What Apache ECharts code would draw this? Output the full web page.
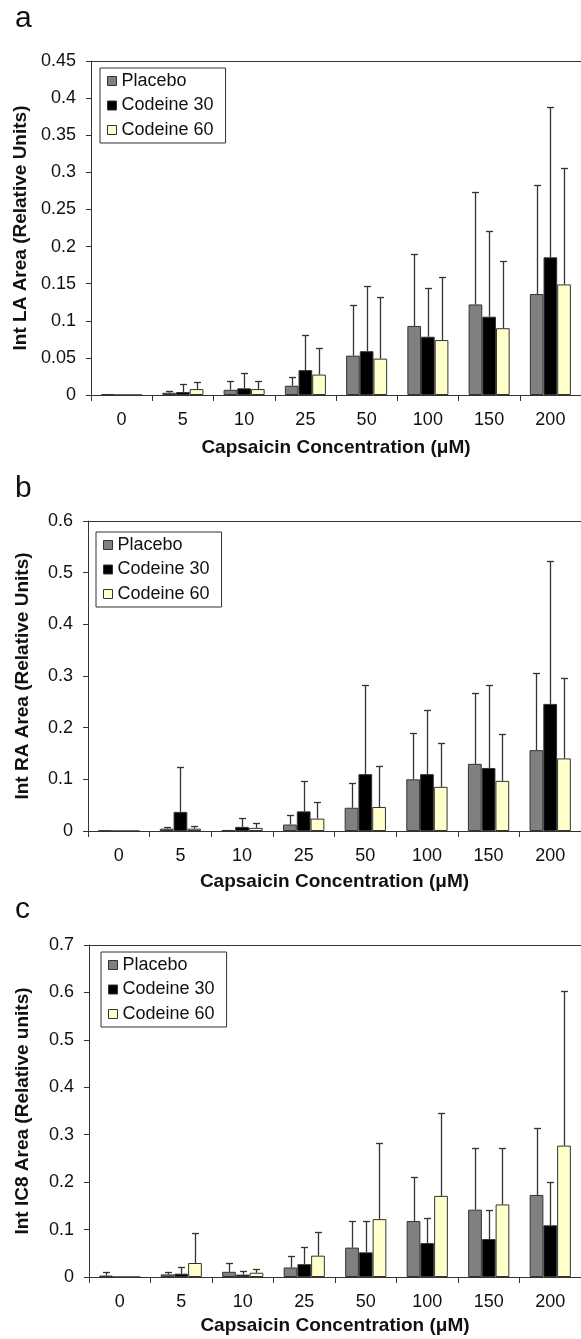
<!DOCTYPE html>
<html>
<head>
<meta charset="utf-8">
<script src="https://cdn.jsdelivr.net/npm/echarts@6/dist/echarts.min.js"></script>
<style>
  html, body { margin: 0; padding: 0; background: #fff; overflow: hidden; }
  #chart { width: 581px; height: 1339px; }
</style>
</head>
<body>
<div id="chart"></div>
<script>
const categories = ['0', '5', '10', '25', '50', '100', '150', '200'];
const seriesNames = ['Placebo', 'Codeine 30', 'Codeine 60'];
const colors = ['#808080', '#000000', '#FFFFCC'];

// panel a: Int LA Area, bar means and top of error bar
const laPlacebo = [0.001, 0.003, 0.007, 0.0125, 0.053, 0.093, 0.122, 0.136];
const laPlaceboHi = [0.001, 0.006, 0.019, 0.0245, 0.121, 0.19, 0.273, 0.283];
const laCod30 = [0, 0.004, 0.009, 0.0335, 0.059, 0.0785, 0.1055, 0.1855];
const laCod30Hi = [0, 0.015, 0.0295, 0.081, 0.1475, 0.1445, 0.2205, 0.388];
const laCod60 = [0, 0.008, 0.008, 0.0275, 0.049, 0.074, 0.09, 0.149];
const laCod60Hi = [0, 0.018, 0.019, 0.063, 0.132, 0.159, 0.18, 0.3055];

// panel b: Int RA Area
const raPlacebo = [0.001, 0.0045, 0.002, 0.0125, 0.045, 0.1, 0.13, 0.1565];
const raPlaceboHi = [0.001, 0.008, 0.002, 0.0305, 0.093, 0.189, 0.2665, 0.3055];
const raCod30 = [0, 0.037, 0.008, 0.038, 0.11, 0.11, 0.122, 0.246];
const raCod30Hi = [0, 0.124, 0.026, 0.097, 0.283, 0.234, 0.283, 0.522];
const raCod60 = [0, 0.0045, 0.006, 0.024, 0.0465, 0.0855, 0.097, 0.1405];
const raCod60Hi = [0, 0.009, 0.016, 0.057, 0.126, 0.171, 0.187, 0.297];

// panel c: Int IC8 Area
const icPlacebo = [0.003, 0.0055, 0.011, 0.02, 0.062, 0.118, 0.142, 0.173];
const icPlaceboHi = [0.0105, 0.0105, 0.0295, 0.044, 0.118, 0.211, 0.273, 0.315];
const icCod30 = [0, 0.007, 0.005, 0.027, 0.052, 0.0715, 0.08, 0.109];
const icCod30Hi = [0, 0.022, 0.0125, 0.064, 0.118, 0.125, 0.141, 0.2];
const icCod60 = [0, 0.0295, 0.009, 0.045, 0.122, 0.171, 0.153, 0.277];
const icCod60Hi = [0, 0.093, 0.017, 0.0955, 0.283, 0.345, 0.273, 0.604];

const yTitles = ['Int LA Area (Relative Units)', 'Int RA Area (Relative Units)', 'Int IC8 Area (Relative units)'];
const xTitle = 'Capsaicin Concentration (μM)';
const panelLetters = ['a', 'b', 'c'];
const yMax = [0.45, 0.6, 0.7];
const yStep = [0.05, 0.1, 0.1];

const panels = [
  { means: [laPlacebo, laCod30, laCod60], highs: [laPlaceboHi, laCod30Hi, laCod60Hi] },
  { means: [raPlacebo, raCod30, raCod60], highs: [raPlaceboHi, raCod30Hi, raCod60Hi] },
  { means: [icPlacebo, icCod30, icCod60], highs: [icPlaceboHi, icCod30Hi, icCod60Hi] },
];

// layout (px)
const grids = [
  { left: 91, top: 61, width: 493, height: 334 },
  { left: 88, top: 521, width: 498, height: 310 },
  { left: 89, top: 945, width: 498, height: 332 },
];
const legendPos = [
  { left: 100, top: 68 },
  { left: 96, top: 532 },
  { left: 101, top: 952 },
];
const letterTop = [4, 474, 895];
const yNameGap = [59, 56, 57];
const xNameGap = [43, 41, 39];

const FONT = "'Liberation Sans', Arial, sans-serif";
const AXIS = '#333';
const GAP = 0.33;

const chart = echarts.init(document.getElementById('chart'));

const series = [];
panels.forEach((p, g) => {
  p.means.forEach((vals, k) => {
    series.push({
      type: 'bar',
      name: seriesNames[k],
      xAxisIndex: g,
      yAxisIndex: g,
      data: vals,
      barGap: 0,
      barCategoryGap: (GAP * 100) + '%',
      itemStyle: { color: colors[k], borderColor: AXIS, borderWidth: 1 },
      silent: true,
    });
  });
  p.means.forEach((vals, k) => {
    series.push({
      type: 'custom',
      xAxisIndex: g,
      yAxisIndex: g,
      z: 5,
      silent: true,
      data: vals.map((m, i) => [i, m, p.highs[k][i]]),
      encode: { x: 0, y: [1, 2] },
      renderItem(params, api) {
        const i = api.value(0);
        const m = api.value(1);
        const hi = api.value(2);
        if (!(hi > m)) return null;
        const base = api.coord([i, m]);
        const top = api.coord([i, hi]);
        const band = api.size([1, 0])[0];
        const bw = band * (1 - GAP) / 3;
        const x = Math.round(base[0] + (k - 1) * bw) + 0.5;
        const yt = Math.round(top[1]) + 0.5;
        const style = { stroke: AXIS, lineWidth: 1.3 };
        return {
          type: 'group',
          children: [
            { type: 'line', shape: { x1: x, y1: base[1], x2: x, y2: yt }, style },
            { type: 'line', shape: { x1: x - 3.5, y1: yt, x2: x + 3.5, y2: yt }, style },
          ],
        };
      },
    });
  });
});

const bottomAxes = grids.map((g, i) => ({
  type: 'category',
  gridIndex: i,
  data: categories,
  name: xTitle,
  nameLocation: 'middle',
  nameGap: xNameGap[i],
  nameTextStyle: { fontSize: 19, fontWeight: 'bold', color: '#111', fontFamily: FONT },
  axisLine: { lineStyle: { color: AXIS, width: 1 } },
  axisTick: { show: true, length: 6, lineStyle: { color: AXIS } },
  axisLabel: { fontSize: 18, color: '#111', margin: 16, fontFamily: FONT },
  splitLine: { show: false },
}));
// top frame line of each plot (no right edge visible in the figure)
const topAxes = grids.map((g, i) => ({
  type: 'category',
  gridIndex: i,
  position: 'top',
  data: categories,
  axisLine: { show: true, lineStyle: { color: AXIS, width: 1 } },
  axisTick: { show: false },
  axisLabel: { show: false },
  splitLine: { show: false },
}));

const option = {
  animation: false,
  backgroundColor: '#fff',
  textStyle: { fontFamily: FONT },
  grid: grids,
  xAxis: bottomAxes.concat(topAxes),
  yAxis: grids.map((g, i) => ({
    type: 'value',
    gridIndex: i,
    min: 0,
    max: yMax[i],
    interval: yStep[i],
    name: yTitles[i],
    nameLocation: 'middle',
    nameGap: yNameGap[i],
    nameTextStyle: { fontSize: 19, fontWeight: 'bold', color: '#111', fontFamily: FONT },
    axisLine: { show: true, lineStyle: { color: AXIS, width: 1 } },
    axisTick: { show: true, length: 5, lineStyle: { color: AXIS } },
    axisLabel: {
      fontSize: 18, color: '#111', margin: 15, fontFamily: FONT,
      formatter: v => String(+v.toFixed(2)),
    },
    splitLine: { show: false },
  })),
  legend: legendPos.map(pos => ({
    ...pos,
    orient: 'vertical',
    data: seriesNames,
    icon: 'rect',
    itemWidth: 9,
    itemHeight: 9,
    itemGap: 4.5,
    padding: [3, 12, 3, 7],
    borderColor: AXIS,
    borderWidth: 1,
    backgroundColor: '#fff',
    selectedMode: false,
    itemStyle: { borderColor: AXIS, borderWidth: 1 },
    textStyle: { fontSize: 18, color: '#111', lineHeight: 20, fontFamily: FONT },
  })),
  graphic: panelLetters.map((t, i) => ({
    type: 'text',
    left: 15,
    top: letterTop[i],
    style: { text: t, fontSize: 30, fill: '#111', fontFamily: FONT },
  })),
  series,
};

chart.setOption(option);
</script>
</body>
</html>
